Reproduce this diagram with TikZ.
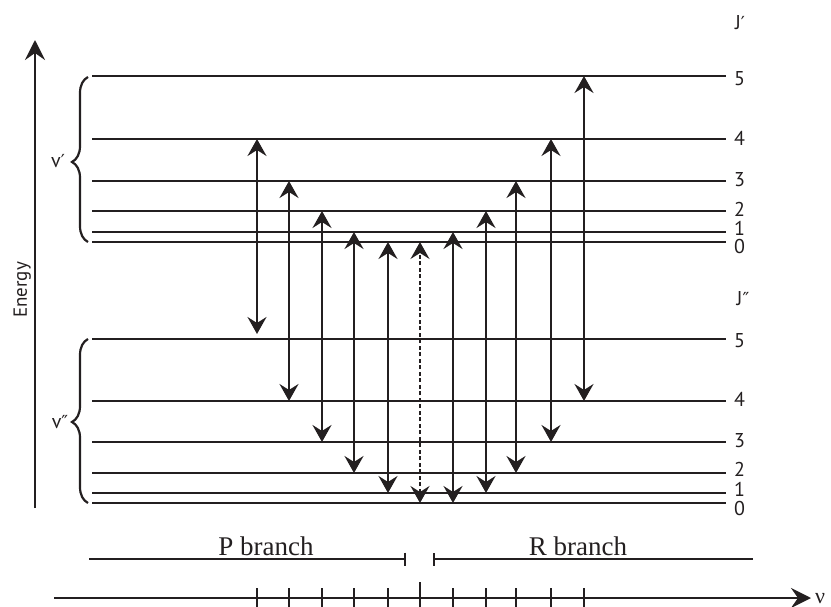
\documentclass[tikz,border=0pt]{standalone}
\usepackage{fontspec}
\setmainfont{Liberation Serif}
\newfontfamily\labelfont{PT Sans}
\newfontfamily\markfont{DejaVu Sans}
\newcommand{\sprime}{{\markfont\fontsize{18pt}{18pt}\selectfont ′}}
\newcommand{\dprime}{{\markfont\fontsize{18pt}{18pt}\selectfont ″}}
\usetikzlibrary{arrows.meta,decorations.pathreplacing}
\definecolor{ink}{HTML}{231F20}

\begin{document}
\begin{tikzpicture}[x=1pt,y=-1pt,
  level/.style={draw=ink,line width=1.7pt},
  trans/.style={draw=ink,line width=2pt,{Stealth[length=17pt,width=19pt,inset=6pt]}-{Stealth[length=17pt,width=19pt,inset=6pt]}},
  axisline/.style={draw=ink,line width=2.2pt,-{Stealth[length=20pt,width=20pt,inset=7pt]}},
  tickmark/.style={draw=ink,line width=1.6pt},
  branch/.style={draw=ink,line width=2.2pt},
  jlabel/.style={text=ink,inner sep=0pt,font=\labelfont\fontsize{20pt}{20pt}\selectfont},
  elabel/.style={text=ink,inner sep=0pt,font=\labelfont\fontsize{19pt}{19pt}\selectfont},
  btext/.style={text=ink,inner sep=0pt,font=\fontsize{27pt}{27pt}\selectfont},
  brc/.style={draw=ink,line width=2.2pt,decorate,decoration={brace,amplitude=16pt,aspect=#1}}
]
\useasboundingbox (0,0) rectangle (831,607);

% rotational levels of the upper (v') and lower (v'') vibrational states
\foreach \n/\y in {5/76,4/139,3/181,2/211,1/232,0/242} {
  \coordinate (U\n a) at (92,\y);
  \coordinate (U\n b) at (726,\y);
  \draw[level] (U\n a) -- (U\n b);
}
\foreach \n/\y in {5/339,4/401,3/442,2/473,1/493,0/503} {
  \coordinate (L\n a) at (92,\y);
  \coordinate (L\n b) at (726,\y);
  \draw[level] (L\n a) -- (L\n b);
}

% J labels
\node[jlabel] (jup)  at (740,23)  {J\sprime};
\node[jlabel] (jlow) at (743,299) {J\dprime};
\foreach \n/\y in {5/79,4/138,3/180,2/209,1/228,0/247}
  \node[jlabel] (ju\n) at (739.5,\y) {\n};
\foreach \n/\y in {5/341,4/399,3/441,2/469,1/489,0/508}
  \node[jlabel] (jl\n) at (739.5,\y) {\n};

% columns of the transitions (also the spectral lines)
\foreach \c/\x in {1/257,2/289,3/322,4/354,5/388,6/420,7/453,8/486,9/516,10/551,11/584}
  \coordinate (c\c) at (\x,0);

% P branch and R branch transitions
\draw[trans,shorten <=5pt] (c1 |- L5a) -- (c1 |- U4a);
\foreach \c/\u/\l in {2/3/4,3/2/3,4/1/2,5/0/1,7/1/0,8/2/1,9/3/2,10/4/3,11/5/4}
  \draw[trans] (c\c |- L\l a) -- (c\c |- U\u a);
% forbidden Q(0) line
\draw[trans,line width=1.6pt,dash pattern=on 4pt off 2.5pt] (c6 |- L0a) -- (c6 |- U0a);

% energy axis
\coordinate (e0) at (35,508);
\coordinate (e1) at (35,40);
\draw[axisline] (e0) -- (e1);
\node[elabel,rotate=90,anchor=base] (energy) at (27,290) {Energy};

% vibrational braces
\coordinate (bu0) at (88,242);
\coordinate (bu1) at (88,77);
\coordinate (bl0) at (88,503);
\coordinate (bl1) at (88,339);
\draw[brc=0.485] (bu0) -- (bu1);
\draw[brc=0.494] (bl0) -- (bl1);
\node[jlabel] (vup)  at (58,161) {v\sprime};
\node[jlabel] (vlow) at (60,422) {v\dprime};

% branch markers
\coordinate (pL) at (89,559);
\coordinate (pR) at (406,559);
\coordinate (rL) at (433,559);
\coordinate (rR) at (753,559);
\draw[branch,-{Bar[width=13pt]}] (pL) -- (pR);
\draw[branch,{Bar[width=13pt]}-] (rL) -- (rR);
\node[btext,anchor=base] (pbr) at (266,555) {P branch};
\node[btext,anchor=base] (rbr) at (578,555) {R branch};

% frequency axis with line positions
\coordinate (a0) at (54,598);
\coordinate (a1) at (811,598);
\coordinate (tt) at (0,588);
\coordinate (tb) at (0,608);
\coordinate (ct) at (0,582);
\draw[axisline] (a0) -- (a1);
\foreach \c in {1,2,3,4,5,7,8,9,10,11}
  \draw[tickmark] (c\c |- tt) -- (c\c |- tb);
\draw[tickmark] (c6 |- ct) -- (c6 |- tb);
\node[text=ink,inner sep=0pt,anchor=base west,font=\fontsize{22pt}{22pt}\selectfont] (nu) at (815,603) {ν};
\end{tikzpicture}
\end{document}
